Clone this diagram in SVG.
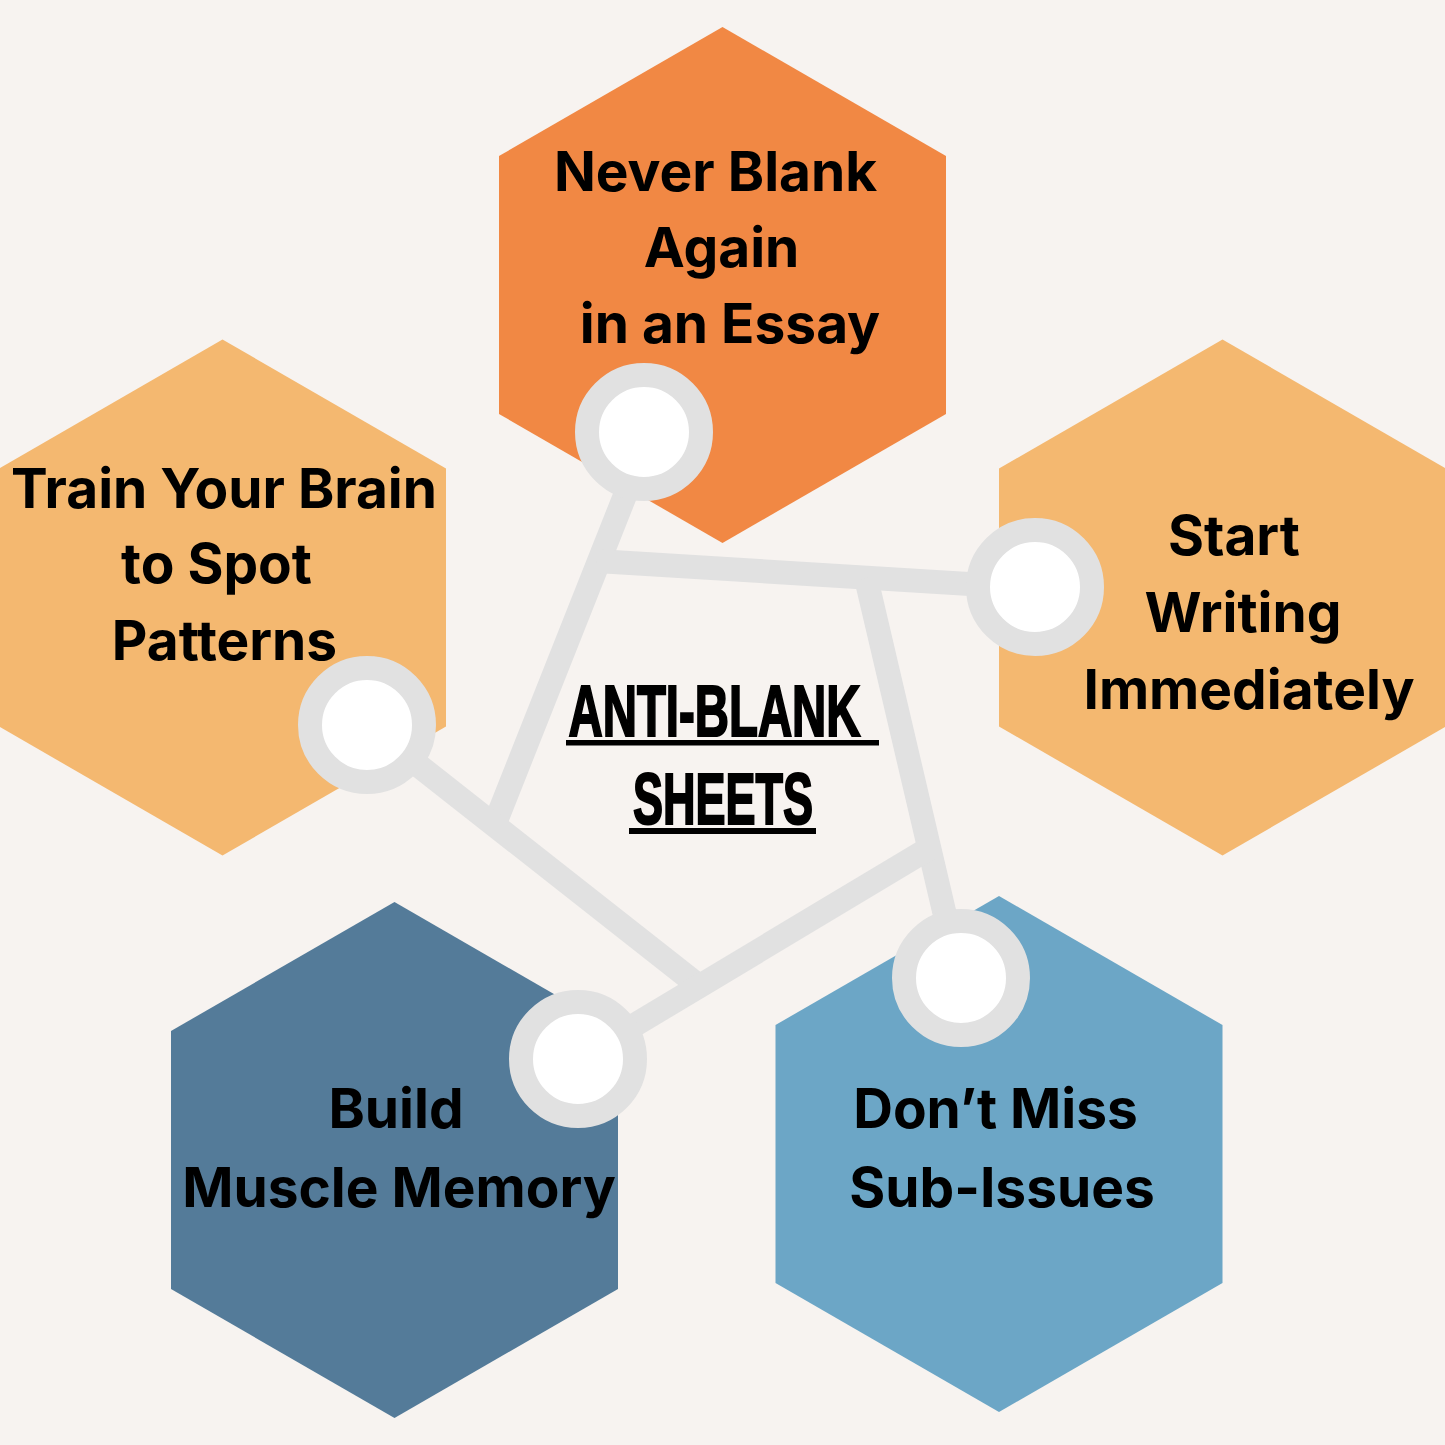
<svg xmlns="http://www.w3.org/2000/svg" width="1445" height="1445" viewBox="0 0 1445 1445">
  <style>
    .hex { stroke: none; }
    .conn { fill: none; stroke: #E1E1E1; stroke-width: 24; stroke-linecap: butt; }
    .dot { fill: #FFFFFF; stroke: #E1E1E1; stroke-width: 24; }
    .lbl { font-family: Inter, "Noto Sans", "Liberation Sans", sans-serif; font-weight: 700; font-size: 55px; fill: #000000; text-anchor: middle; }
    .title { font-family: "Liberation Sans", "DejaVu Sans Condensed", sans-serif; font-weight: 700; font-size: 72px; fill: #000000; stroke: #000000; stroke-width: 2.2px; }
  </style>
  <rect x="0" y="0" width="1445" height="1445" fill="#F7F3F0"/>

  <g id="node-never-blank">
    <polygon class="hex" fill="#F18844" points="722.5,27 946,156 946,414 722.5,543 499,414 499,156"/>
  </g>
  <g id="node-train-brain">
    <polygon class="hex" fill="#F4B870" points="222.5,339.5 446,468.5 446,726.5 222.5,855.5 -1,726.5 -1,468.5"/>
  </g>
  <g id="node-start-writing">
    <polygon class="hex" fill="#F4B870" points="1222.5,339.5 1446,468.5 1446,726.5 1222.5,855.5 999,726.5 999,468.5"/>
  </g>
  <g id="node-muscle-memory">
    <polygon class="hex" fill="#547B99" points="394.5,902 618,1031 618,1289 394.5,1418 171,1289 171,1031"/>
  </g>
  <g id="node-sub-issues">
    <polygon class="hex" fill="#6CA6C6" points="999,896 1222.5,1025 1222.5,1283 999,1412 775.5,1283 775.5,1025"/>
  </g>

  <g id="connectors">
    <line class="conn" x1="647" y1="440" x2="494" y2="826"/>
    <line class="conn" x1="597" y1="561" x2="1035" y2="588"/>
    <line class="conn" x1="866" y1="578" x2="959" y2="975"/>
    <line class="conn" x1="367" y1="725" x2="699" y2="986"/>
    <line class="conn" x1="578" y1="1059" x2="928" y2="849"/>
  </g>

  <g id="dots">
    <circle class="dot" cx="644" cy="432" r="57"/>
    <circle class="dot" cx="1035" cy="587" r="57"/>
    <circle class="dot" cx="367" cy="725" r="57"/>
    <circle class="dot" cx="578" cy="1059" r="57"/>
    <circle class="dot" cx="961" cy="978" r="57"/>
  </g>

  <g id="labels">
    <text class="lbl" x="715.5" y="191">Never Blank</text>
    <text class="lbl" x="721.5" y="267">Again</text>
    <text class="lbl" x="730" y="343">in an Essay</text>

    <text class="lbl" x="224" y="508">Train Your Brain</text>
    <text class="lbl" x="216.5" y="583">to Spot</text>
    <text class="lbl" x="224.5" y="660">Patterns</text>

    <text class="lbl" x="1234" y="555">Start</text>
    <text class="lbl" x="1243" y="632">Writing</text>
    <text class="lbl" x="1249" y="709">Immediately</text>

    <text class="lbl" x="396" y="1128">Build</text>
    <text class="lbl" x="399" y="1207">Muscle Memory</text>

    <text class="lbl" x="995.5" y="1128">Don’t Miss</text>
    <text class="lbl" x="1002" y="1207">Sub-Issues</text>
  </g>

  <g id="title">
    <text class="title" x="568.5" y="736" textLength="292" lengthAdjust="spacingAndGlyphs">ANTI-BLANK</text>
    <rect x="566" y="740" width="313" height="5.5" fill="#000000"/>
    <text class="title" x="633" y="824" textLength="180" lengthAdjust="spacingAndGlyphs">SHEETS</text>
    <rect x="629" y="828" width="187" height="6" fill="#000000"/>
  </g>
</svg>
